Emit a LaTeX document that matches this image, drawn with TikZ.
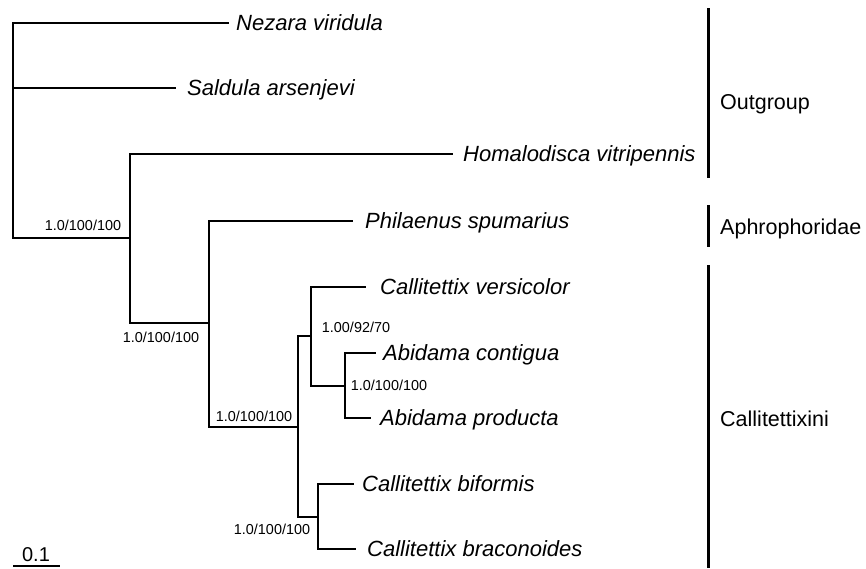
\documentclass[tikz,border=0pt]{standalone}
\usepackage{fontspec}
\setmainfont{Liberation Sans}
\begin{document}
\begin{tikzpicture}[x=1pt,y=-1pt,
  branch/.style={line width=1.3pt, line cap=rect},
  groupbar/.style={line width=3pt},
  taxon/.style={anchor=base west, inner sep=0pt, font=\fontsize{22}{26}\selectfont\itshape},
  support/.style={anchor=center, inner sep=0pt, font=\fontsize{14.4}{17}\selectfont},
  grouplabel/.style={anchor=base west, inner sep=0pt, font=\fontsize{21.5}{25}\selectfont},
  scalelabel/.style={anchor=base, inner sep=0pt, font=\fontsize{20}{24}\selectfont}]
\useasboundingbox[fill=white] (0,0) rectangle (866,568);
% internal nodes
\coordinate (root) at (13,238);
\coordinate (n1) at (130,238);
\coordinate (n2) at (209,323);
\coordinate (n3) at (298,427);
\coordinate (n4) at (311,336);
\coordinate (n5) at (345,386);
\coordinate (n6) at (318,517);
% tips
\coordinate (tNez) at (228,23);
\coordinate (tSal) at (175,88);
\coordinate (tHom) at (452,154);
\coordinate (tPhi) at (352,221);
\coordinate (tVer) at (365,287);
\coordinate (tCon) at (375,353);
\coordinate (tPro) at (370,418);
\coordinate (tBif) at (353,484);
\coordinate (tBra) at (355,549);
% branches
\draw[branch] (root) |- (tNez);
\draw[branch] (root) |- (tSal);
\draw[branch] (root) -- (n1);
\draw[branch] (n1) |- (tHom);
\draw[branch] (n1) |- (n2);
\draw[branch] (n2) |- (tPhi);
\draw[branch] (n2) |- (n3);
\draw[branch] (n3) |- (n4);
\draw[branch] (n3) |- (n6);
\draw[branch] (n4) |- (tVer);
\draw[branch] (n4) |- (n5);
\draw[branch] (n5) |- (tCon);
\draw[branch] (n5) |- (tPro);
\draw[branch] (n6) |- (tBif);
\draw[branch] (n6) |- (tBra);
% taxon names
\node[taxon] (lNez) at (236,30) {Nezara viridula};
\node[taxon] (lSal) at (187,95) {Saldula arsenjevi};
\node[taxon] (lHom) at (463,161) {Homalodisca vitripennis};
\node[taxon] (lPhi) at (365,228) {Philaenus spumarius};
\node[taxon] (lVer) at (380,294) {Callitettix versicolor};
\node[taxon] (lCon) at (383,360) {Abidama contigua};
\node[taxon] (lPro) at (380,425) {Abidama producta};
\node[taxon] (lBif) at (362,491) {Callitettix biformis};
\node[taxon] (lBra) at (367,556) {Callitettix braconoides};
% support values
\node[support] (s1) at (83,225) {1.0/100/100};
\node[support] (s2) at (161,337) {1.0/100/100};
\node[support] (s3) at (254,416) {1.0/100/100};
\node[support] (s4) at (356,327) {1.00/92/70};
\node[support] (s5) at (389,385) {1.0/100/100};
\node[support] (s6) at (272,529) {1.0/100/100};
% group bars
\coordinate (gOt) at (708,8);
\coordinate (gOb) at (708,178);
\coordinate (gAt) at (708,205);
\coordinate (gAb) at (708,247);
\coordinate (gCt) at (708,265);
\coordinate (gCb) at (708,568);
\draw[groupbar] (gOt) -- (gOb);
\draw[groupbar] (gAt) -- (gAb);
\draw[groupbar] (gCt) -- (gCb);
\node[grouplabel] (gO) at (720,109) {Outgroup};
\node[grouplabel] (gA) at (720,234) {Aphrophoridae};
\node[grouplabel] (gC) at (720,426) {Callitettixini};
% scale bar
\coordinate (sb1) at (13,566);
\coordinate (sb2) at (60,566);
\draw[branch,line cap=butt] (sb1) -- (sb2);
\node[scalelabel] (sbl) at (36,561) {0.1};
\end{tikzpicture}
\end{document}
